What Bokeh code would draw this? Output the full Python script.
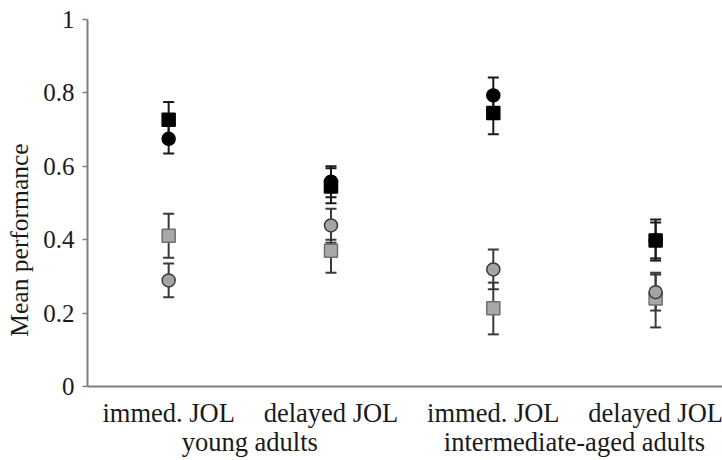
from bokeh.plotting import figure
from bokeh.models import Range1d, FixedTicker, Whisker, ColumnDataSource, TeeHead, Span
from bokeh.core.properties import value
from bokeh.embed import file_html
from bokeh.resources import INLINE

conditions = ["immed. JOL", "delayed JOL", "immed. JOL", "delayed JOL"]
groups = ["young adults", "intermediate-aged adults"]
x_pos = [1, 2, 3, 4]
group_pos = [1.5, 3.5]

black_sq_mean = [0.727, 0.545, 0.745, 0.398]
black_sq_low = [0.679, 0.499, 0.687, 0.349]
black_sq_up = [0.775, 0.595, 0.803, 0.447]

black_ci_mean = [0.675, 0.558, 0.793, 0.399]
black_ci_low = [0.635, 0.516, 0.744, 0.343]
black_ci_up = [0.715, 0.600, 0.842, 0.455]

gray_sq_mean = [0.411, 0.370, 0.213, 0.240]
gray_sq_low = [0.351, 0.310, 0.142, 0.161]
gray_sq_up = [0.471, 0.400, 0.283, 0.305]

gray_ci_mean = [0.289, 0.439, 0.319, 0.257]
gray_ci_low = [0.243, 0.392, 0.265, 0.207]
gray_ci_up = [0.335, 0.484, 0.373, 0.310]

y_ticks = [0, 0.2, 0.4, 0.6, 0.8, 1]
y_tick_labels = ["0", "0.2", "0.4", "0.6", "0.8", "1"]

FONT = "Liberation Serif"
TXT = "#1a1a1a"
AX = "#7f7f7f"

# frame spans the full lower part of the canvas; the value axis covers 0..1
PX_PER_UNIT = 367.0
Y_MIN = -74.0 / PX_PER_UNIT

p = figure(width=722, height=460, output_backend="svg", toolbar_location=None,
           x_range=Range1d(0.5, 4.412), y_range=Range1d(Y_MIN, 1),
           min_border_left=87, min_border_right=0, min_border_top=19, min_border_bottom=0,
           x_axis_location=None)
p.outline_line_color = None
p.xgrid.visible = False
p.ygrid.visible = False
p.background_fill_color = "white"
p.border_fill_color = "white"

# y axis
ya = p.yaxis[0]
ya.bounds = (0, 1)
ya.ticker = FixedTicker(ticks=y_ticks)
ya.major_label_overrides = {t: l for t, l in zip(y_ticks, y_tick_labels)}
ya.minor_tick_line_color = None
ya.major_tick_out = 5
ya.major_tick_in = 0
ya.major_tick_line_color = AX
ya.major_tick_line_width = 1.5
ya.axis_line_color = AX
ya.axis_line_width = 2
ya.major_label_text_font = FONT
ya.major_label_text_font_size = "25px"
ya.major_label_text_color = TXT
ya.major_label_standoff = 8
ya.axis_label = "Mean performance"
ya.axis_label_text_font = FONT
ya.axis_label_text_font_size = "25.5px"
ya.axis_label_text_font_style = "normal"
ya.axis_label_text_color = TXT
ya.axis_label_standoff = 6

# x axis baseline
p.add_layout(Span(location=0, dimension="width", line_color=AX, line_width=2))

# condition and group labels below the baseline
p.text(x=x_pos, y=[0] * len(x_pos), text=conditions, y_offset=26,
       text_align="center", text_baseline="alphabetic",
       text_font=value(FONT), text_font_size="26.5px", text_color=TXT)
p.text(x=group_pos, y=[0] * len(group_pos), text=groups, y_offset=55,
       text_align="center", text_baseline="alphabetic",
       text_font=value(FONT), text_font_size="26.5px", text_color=TXT)

def add_series(mean, low, up, eline):
    src = ColumnDataSource(dict(x=x_pos, y=mean, lower=low, upper=up))
    w = Whisker(base="x", lower="lower", upper="upper", source=src,
                line_color=eline, line_width=2,
                upper_head=TeeHead(size=11, line_color=eline, line_width=2),
                lower_head=TeeHead(size=11, line_color=eline, line_width=2))
    p.add_layout(w)
    return src

series = [
    (black_sq_mean, black_sq_low, black_sq_up, "square", "black", "black", "#1a1a1a"),
    (black_ci_mean, black_ci_low, black_ci_up, "circle", "black", "black", "#1a1a1a"),
    (gray_sq_mean, gray_sq_low, gray_sq_up, "square", "#a8a8a8", "#6e6e6e", "#3a3a3a"),
    (gray_ci_mean, gray_ci_low, gray_ci_up, "circle", "#a4a4a4", "#3a3a3a", "#3a3a3a"),
]
srcs = [add_series(s[0], s[1], s[2], s[6]) for s in series]
for src, s in zip(srcs, series):
    p.scatter("x", "y", source=src, marker=s[3], size=13, fill_color=s[4],
              line_color=s[5], line_width=1.5)

open("out.html", "w").write(file_html(p, INLINE))
